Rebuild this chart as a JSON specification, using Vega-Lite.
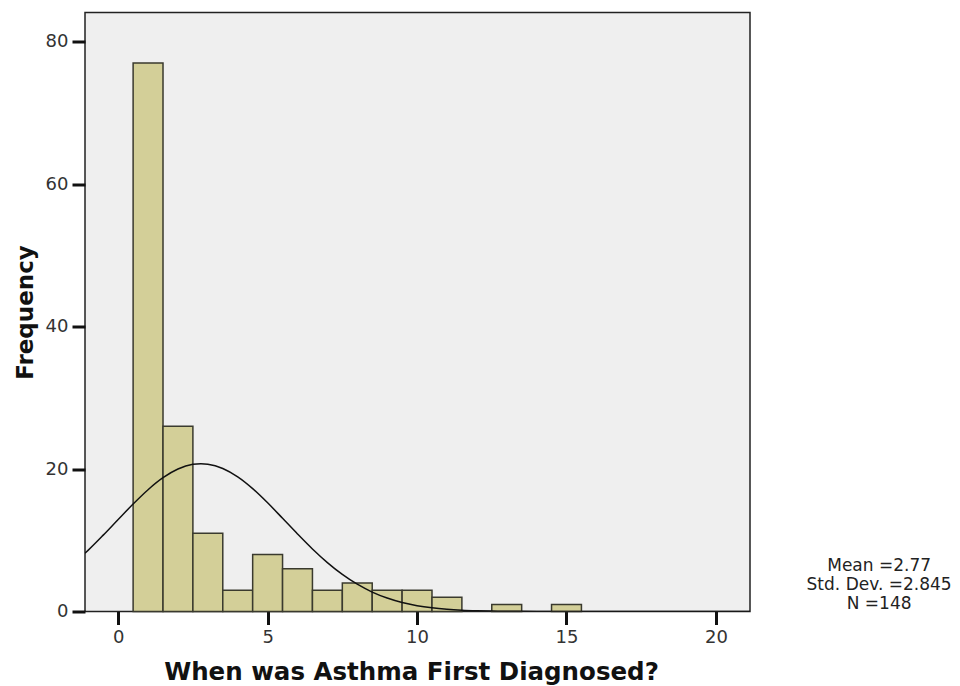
{
  "$schema": "https://vega.github.io/schema/vega-lite/v6.json",
  "autosize": "none",
  "width": 665,
  "height": 599,
  "padding": {"left": 85, "top": 12.5, "right": 210, "bottom": 74.5},
  "background": "white",
  "config": {
    "font": "DejaVu Sans",
    "view": {"fill": "#efefef", "stroke": "#222222", "strokeWidth": 1.5}
  },
  "datasets": {
    "bars": [
      {"start": 0.5, "end": 1.5, "count": 77},
      {"start": 1.5, "end": 2.5, "count": 26},
      {"start": 2.5, "end": 3.5, "count": 11},
      {"start": 3.5, "end": 4.5, "count": 3},
      {"start": 4.5, "end": 5.5, "count": 8},
      {"start": 5.5, "end": 6.5, "count": 6},
      {"start": 6.5, "end": 7.5, "count": 3},
      {"start": 7.5, "end": 8.5, "count": 4},
      {"start": 8.5, "end": 9.5, "count": 3},
      {"start": 9.5, "end": 10.5, "count": 3},
      {"start": 10.5, "end": 11.5, "count": 2},
      {"start": 12.5, "end": 13.5, "count": 1},
      {"start": 14.5, "end": 15.5, "count": 1}
    ],
    "curve": [
      {"x": -1.11, "y": 8.19},
      {"x": -1.0, "y": 8.62},
      {"x": -0.5, "y": 10.72},
      {"x": 0.0, "y": 12.92},
      {"x": 0.5, "y": 15.09},
      {"x": 1.0, "y": 17.10},
      {"x": 1.5, "y": 18.78},
      {"x": 2.0, "y": 20.00},
      {"x": 2.5, "y": 20.66},
      {"x": 2.77, "y": 20.75},
      {"x": 3.0, "y": 20.68},
      {"x": 3.5, "y": 20.08},
      {"x": 4.0, "y": 18.90},
      {"x": 4.5, "y": 17.25},
      {"x": 5.0, "y": 15.26},
      {"x": 5.5, "y": 13.09},
      {"x": 6.0, "y": 10.89},
      {"x": 6.5, "y": 8.78},
      {"x": 7.0, "y": 6.87},
      {"x": 7.5, "y": 5.21},
      {"x": 8.0, "y": 3.83},
      {"x": 8.5, "y": 2.73},
      {"x": 9.0, "y": 1.89},
      {"x": 9.5, "y": 1.26},
      {"x": 10.0, "y": 0.82},
      {"x": 10.5, "y": 0.52},
      {"x": 11.0, "y": 0.32},
      {"x": 11.5, "y": 0.19},
      {"x": 12.0, "y": 0.11},
      {"x": 12.5, "y": 0.06},
      {"x": 13.0, "y": 0.03},
      {"x": 14.0, "y": 0.01},
      {"x": 15.0, "y": 0.0},
      {"x": 21.14, "y": 0.0}
    ],
    "stats": [
      {"x": 25.46, "y": 5.66, "label": "Mean =2.77"},
      {"x": 25.46, "y": 2.99, "label": "Std. Dev. =2.845"},
      {"x": 25.46, "y": 0.32, "label": "N =148"}
    ]
  },
  "layer": [
    {
      "data": {"name": "bars"},
      "mark": {"type": "rect", "fill": "#d3cf98", "stroke": "#3a3a2e", "strokeWidth": 1.5},
      "encoding": {
        "x": {
          "field": "start", "type": "quantitative",
          "scale": {"domain": [-1.11, 21.14], "nice": false, "zero": false},
          "axis": {
            "values": [0, 5, 10, 15, 20], "domain": false, "grid": false,
            "tickSize": 13, "tickWidth": 3, "tickColor": "#111111",
            "labelFontSize": 18, "labelColor": "#333333", "labelPadding": 4,
            "title": "When was Asthma First Diagnosed?",
            "titleFontSize": 24.5, "titleFontWeight": "bold", "titleColor": "#111111",
            "titlePadding": 14, "titleX": 326
          }
        },
        "x2": {"field": "end"},
        "y": {
          "field": "count", "type": "quantitative",
          "scale": {"domain": [0, 84.1], "nice": false},
          "axis": {
            "values": [0, 20, 40, 60, 80], "domain": false, "grid": false,
            "tickSize": 13, "tickWidth": 3, "tickColor": "#111111",
            "labelFontSize": 18, "labelColor": "#333333", "labelPadding": 4,
            "title": "Frequency",
            "titleFontSize": 23, "titleFontWeight": "bold", "titleColor": "#111111",
            "titlePadding": 8
          }
        },
        "y2": {"datum": 0}
      }
    },
    {
      "data": {"name": "curve"},
      "mark": {"type": "line", "color": "#111111", "strokeWidth": 1.5, "interpolate": "monotone", "clip": true},
      "encoding": {
        "x": {"field": "x", "type": "quantitative"},
        "y": {"field": "y", "type": "quantitative"}
      }
    },
    {
      "data": {"name": "stats"},
      "mark": {"type": "text", "fontSize": 17, "color": "#222222", "align": "center", "baseline": "alphabetic"},
      "encoding": {
        "x": {"field": "x", "type": "quantitative"},
        "y": {"field": "y", "type": "quantitative"},
        "text": {"field": "label"}
      }
    }
  ]
}
